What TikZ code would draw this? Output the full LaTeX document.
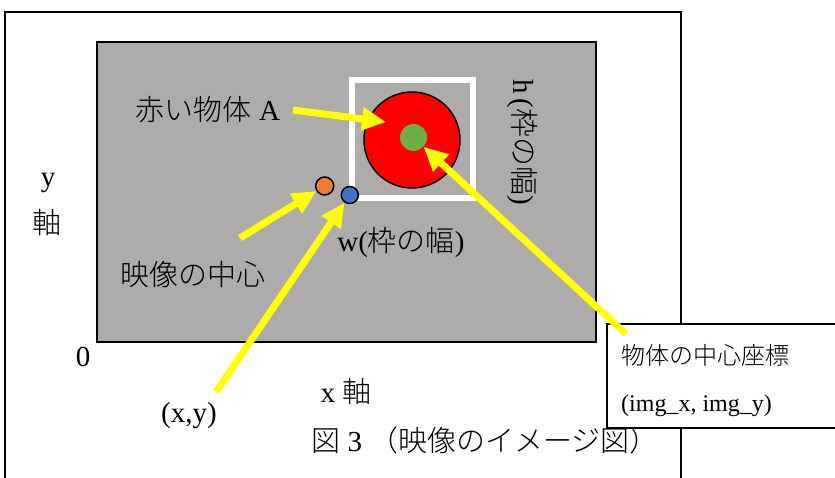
\documentclass[tikz,border=0pt]{standalone}
\usepackage{fontspec}
\setmainfont{Liberation Serif}
\IfFontExistsTF{Noto Sans CJK JP Light}{\newfontfamily\jp{Noto Sans CJK JP Light}}{\newfontfamily\jp{Noto Sans CJK JP}}
\usetikzlibrary{arrows.meta}
\definecolor{screengray}{HTML}{AEABAB}
\definecolor{objred}{HTML}{FF0000}
\definecolor{ctrgreen}{HTML}{70AD47}
\definecolor{dotorange}{HTML}{ED7D31}
\definecolor{dotblue}{HTML}{4472C4}
\definecolor{arrowyellow}{HTML}{FFFF00}
\newcommand\Lbig{\fontsize{29}{33}\selectfont}
\newcommand\Lsmall{\fontsize{24}{28}\selectfont}
\begin{document}
\begin{tikzpicture}[x=1pt,y=-1pt,
  lab/.style={inner sep=0pt, font=\Lbig},
  smalllab/.style={inner sep=0pt, font=\Lsmall, anchor=west},
  fatarrow/.style={draw=arrowyellow, line width=7pt, -{Triangle[width=22pt,length=24pt]}},
  dot/.style={circle, draw=black, line width=1.5pt, inner sep=0pt}]
\useasboundingbox (0,0) rectangle (835,478);
\clip (0,0) rectangle (835,478);
% outer frame
\draw[line width=1.5pt] (5,495) -- (5,12) -- (681,12) -- (681,495);
% screen
\node[draw=black, fill=screengray, line width=1.5pt, inner sep=0pt,
      minimum width=499pt, minimum height=300pt] (screen) at (346.5,192) {};
% white bounding frame
\node[draw=white, line width=5.5pt, inner sep=0pt,
      minimum width=121pt, minimum height=118pt] (wframe) at (412.5,139) {};
% objects
\node[dot, fill=objred, minimum size=96pt] (redobj) at (412,140) {};
\node[circle, fill=ctrgreen, inner sep=0pt, minimum size=27pt] (ctr) at (413.5,137.5) {};
\node[dot, fill=dotorange, minimum size=18pt] (imgc) at (324.7,186) {};
\node[dot, fill=dotblue, minimum size=17pt] (xy) at (349.8,195) {};
% labels
\node[lab] (lblA) at (208,110) {{\jp 赤い物体} A};
\node[lab] (lblY) at (48,183) {y};
\node[lab] (lblYj) at (47,222) {\jp 軸};
\node[lab, rotate=-90] (lblH) at (523,142) {h\,({\jp 枠の幅})};
\node[lab] (lblW) at (401,242) {w({\jp 枠の幅})};
\node[lab] (lblC) at (193,275) {\jp 映像の中心};
\node[lab] (lbl0) at (83,357) {0};
\node[lab] (lblX) at (346,391) {x {\jp 軸}};
\node[lab] (lblXY) at (189,416) {(x,y)};
\node[lab] (cap) at (485,440) {{\jp 図}~3~{\jp （映像のイメージ図）}};
% coordinate box
\node[draw=black, fill=white, line width=1.5pt, inner sep=0pt, anchor=north west,
      minimum width=240pt, minimum height=104pt] (cbox) at (606,323) {};
\node[smalllab] (cboxA) at (621,355) {\jp 物体の中心座標};
\node[smalllab] (cboxB) at (621,406) {(img\_x, img\_y)};
% arrows
\coordinate (tA) at (293,110);
\coordinate (hA) at (386,122);
\coordinate (tG) at (626,334);
\coordinate (tC) at (240,238);
\coordinate (tXY) at (216,392);
\draw[fatarrow] (tA) -- (hA);
\draw[fatarrow] (tG) -- (ctr);
\draw[fatarrow] (tC) -- (imgc);
\draw[fatarrow] (tXY) -- (xy);
\end{tikzpicture}
\end{document}
